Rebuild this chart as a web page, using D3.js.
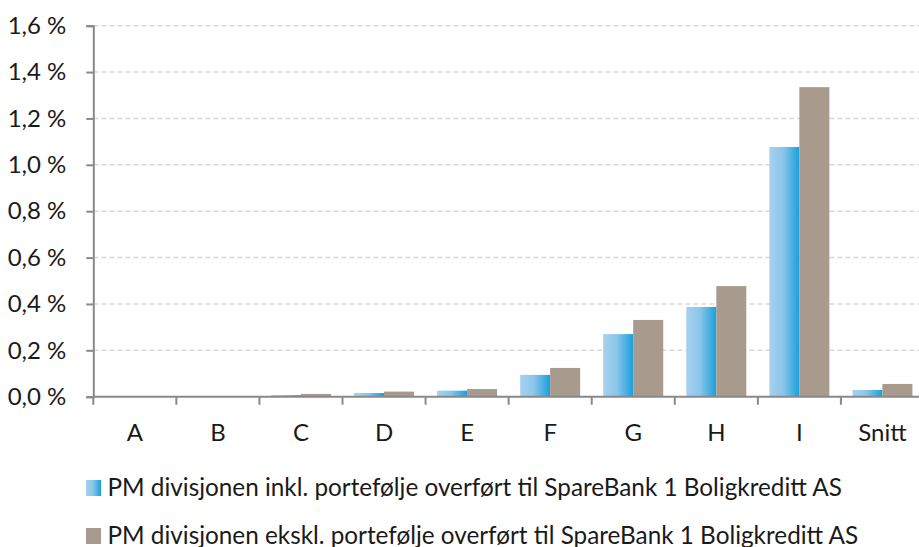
<!DOCTYPE html>
<html>
<head>
<meta charset="utf-8">
<script src="https://cdn.jsdelivr.net/npm/d3@7"></script>
<style>
  body { margin: 0; background: #fff; }
  svg text { font-family: Lato, "Open Sans", sans-serif; fill: #1a1a1a; }
</style>
</head>
<body>
<svg id="chart" width="919" height="547"></svg>
<script>
// categories and the two series (values in percent)
var categories = ["A", "B", "C", "D", "E", "F", "G", "H", "I", "Snitt"];
var inklValues = [0.001, 0.001, 0.007, 0.016, 0.026, 0.094, 0.270, 0.387, 1.077, 0.029];
var ekslValues = [0.001, 0.002, 0.012, 0.022, 0.033, 0.124, 0.331, 0.477, 1.335, 0.055];
var seriesNames = [
    "PM divisjonen inkl. portefølje overført til SpareBank 1 Boligkreditt AS",
    "PM divisjonen ekskl. portefølje overført til SpareBank 1 Boligkreditt AS"
];
var yTicks = [0, 0.2, 0.4, 0.6, 0.8, 1.0, 1.2, 1.4, 1.6];

var svg = d3.select("#chart");

var plotLeft = 93.3, plotRight = 924, plotTop = 25.7, plotBottom = 396.7;

var x0 = d3.scaleBand().domain(categories).range([plotLeft, plotRight]).padding(0);
var x1 = d3.scaleBand().domain([0, 1]).range([11.5, 71.5]).padding(0);
var y = d3.scaleLinear().domain([0, 1.6]).range([plotBottom, plotTop]);

var nb = d3.formatLocale({decimal: ",", thousands: " ", grouping: [3], currency: ["", ""]});
var fmt = nb.format(".1f");

// gradient for the blue series
var defs = svg.append("defs");
var grad = defs.append("linearGradient").attr("id", "blueGrad")
    .attr("x1", "0%").attr("x2", "100%").attr("y1", "0%").attr("y2", "0%");
grad.append("stop").attr("offset", "0%").attr("stop-color", "#a6d1ee");
grad.append("stop").attr("offset", "45%").attr("stop-color", "#8cc6ea");
grad.append("stop").attr("offset", "100%").attr("stop-color", "#18a0dc");

// gridlines
svg.append("g").selectAll("line")
    .data(yTicks.slice(1))
    .enter().append("line")
    .attr("x1", plotLeft).attr("x2", 919)
    .attr("y1", function (d) { return y(d); })
    .attr("y2", function (d) { return y(d); })
    .attr("stroke", "#d9d9d9")
    .attr("stroke-width", 1.5)
    .attr("stroke-dasharray", "5,3");

// bars
var groups = svg.append("g").selectAll("g")
    .data(categories)
    .enter().append("g")
    .attr("transform", function (d) { return "translate(" + x0(d) + ",0)"; });

groups.append("rect")
    .attr("x", x1(0)).attr("width", x1.bandwidth())
    .attr("y", function (d, i) { return y(inklValues[i]); })
    .attr("height", function (d, i) { return plotBottom - y(inklValues[i]); })
    .attr("fill", "url(#blueGrad)");

groups.append("rect")
    .attr("x", x1(1)).attr("width", x1.bandwidth())
    .attr("y", function (d, i) { return y(ekslValues[i]); })
    .attr("height", function (d, i) { return plotBottom - y(ekslValues[i]); })
    .attr("fill", "#a89b8e");

// y axis
var yAxis = svg.append("g")
    .attr("transform", "translate(" + plotLeft + ",0)")
    .call(d3.axisLeft(y).tickValues(yTicks).tickSize(7).tickPadding(20)
        .tickFormat(function (d) { return fmt(d) + " %"; }));
yAxis.select(".domain").attr("stroke", "#898989").attr("stroke-width", 2);
yAxis.selectAll(".tick line").attr("stroke", "#898989").attr("stroke-width", 2);
yAxis.selectAll("text").style("font-size", "24px").attr("fill", "#1a1a1a");

// x axis
var xAxisG = svg.append("g").attr("transform", "translate(0," + plotBottom + ")");
xAxisG.append("line").attr("x1", plotLeft).attr("x2", 919)
    .attr("stroke", "#898989").attr("stroke-width", 2);
xAxisG.selectAll(".tk")
    .data(categories)
    .enter().append("line")
    .attr("x1", function (d) { return x0(d); })
    .attr("x2", function (d) { return x0(d); })
    .attr("y1", 0).attr("y2", 8)
    .attr("stroke", "#898989").attr("stroke-width", 2);
xAxisG.selectAll("text")
    .data(categories)
    .enter().append("text")
    .attr("x", function (d) { return x0(d) + x0.bandwidth() / 2; })
    .attr("y", 44)
    .attr("text-anchor", "middle")
    .style("font-size", "24px")
    .text(function (d) { return d; });

// legend
var legendColors = ["url(#blueGrad)", "#a89b8e"];
var legend = svg.append("g").selectAll("g")
    .data(seriesNames)
    .enter().append("g")
    .attr("transform", function (d, i) { return "translate(86," + (480 + i * 48) + ")"; });
legend.append("rect").attr("width", 15).attr("height", 16)
    .attr("fill", function (d, i) { return legendColors[i]; });
legend.append("text").attr("x", 21.5).attr("y", 16)
    .style("font-size", "24.3px")
    .text(function (d) { return d; });
</script>
</body>
</html>
